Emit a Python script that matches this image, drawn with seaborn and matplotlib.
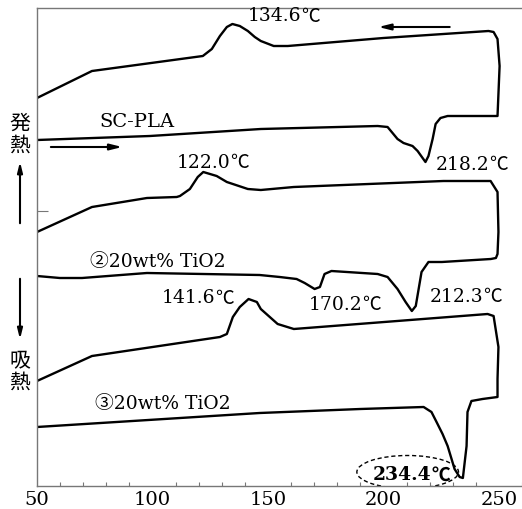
import numpy as np
import pandas as pd
import matplotlib
matplotlib.use("Agg")
import matplotlib.pyplot as plt
import seaborn as sns
from matplotlib.patches import Ellipse, FancyArrowPatch

# DSC traces (arbitrary heat-flow units), each a loop:
# heating run (bottom) -> vertical at 250 C -> cooling run (top)

# SC-PLA
sc_heat_T = [50, 98.9, 146.9, 197.5, 201.8, 206.1, 208.7, 212.6, 214.8, 218.2,
             219.5, 221.3, 222.6, 224.7, 227.8, 247.7, 249.4]
sc_heat_v = [346, 350, 357, 360, 359, 347, 343, 340, 335, 324,
             330, 347, 362, 368, 370, 370, 370]
sc_cool_T = [250.3, 249.4, 247.7, 245.5, 200.0, 158.6, 152.5, 146.9, 144.3, 141.3,
             137.8, 134.6, 132.2, 129.2, 125.7, 121.8, 73.8, 50]
sc_cool_v = [420, 447, 454, 455, 448, 440, 440, 445, 449, 455,
             460, 462, 459, 450, 437, 430, 415, 388]

# (2) 20wt% TiO2
t2_heat_T = [50, 59.9, 69.5, 97.6, 146.4, 155.1, 162.4, 165.9, 170.2, 172.5,
             174.5, 177.5, 197.5, 201.8, 206.1, 209.6, 212.3, 214.0, 216.5,
             219.5, 225.3, 246.5, 248.7, 249.4]
t2_heat_v = [210, 208, 208, 213, 211, 209, 207, 203, 197, 199,
             212, 215, 212, 209, 197, 184, 175, 180, 214,
             224, 224, 227, 228, 232]
t2_cool_T = [249.8, 249.4, 246.4, 226.0, 161.2, 146.9, 141.3, 132.2, 127.8, 122.0,
             119.6, 116.2, 111.9, 110.5, 97.6, 73.8, 50]
t2_cool_v = [254, 294, 305, 305, 299, 296, 297, 304, 310, 314,
             309, 297, 290, 289, 288, 279, 254]

# (3) 20wt% TiO2
t3_heat_T = [50, 146.4, 190.0, 217.4, 220.8, 223.0, 225.6, 227.8, 229.5, 230.8,
             233.0, 234.4, 236.0, 236.4, 238.1, 242.9, 249.4]
t3_heat_v = [59, 73, 77, 79, 74, 64, 52, 40, 27, 17,
             9, 8, 40, 74, 85, 87, 89]
t3_cool_T = [249.4, 249.8, 247.7, 245.1, 161.2, 154.2, 146.9, 145.2, 141.6, 137.8,
             134.8, 132.2, 129.2, 73.8, 50]
t3_cool_v = [107, 139, 170, 172, 157, 162, 177, 184, 187, 179,
             169, 152, 149, 130, 105]

x_ticks = [50, 100, 150, 200, 250]

# peak temperatures written on the chart
peak_labels = ["134.6", "218.2", "122.0", "141.6", "170.2", "212.3", "234.4"]

sns.set_theme(style="white")
plt.rcParams["font.family"] = ["DejaVu Serif", "Noto Sans CJK JP", "DejaVu Sans"]
plt.rcParams["text.color"] = "black"

fig = plt.figure(figsize=(5.22, 5.10), dpi=100)
ax = fig.add_axes([37 / 522, 23 / 510, 485 / 522, 478 / 510])

curves = [
    (sc_heat_T + sc_cool_T, sc_heat_v + sc_cool_v),
    (t2_heat_T + t2_cool_T, t2_heat_v + t2_cool_v),
    (t3_heat_T + t3_cool_T, t3_heat_v + t3_cool_v),
]
for T, v in curves:
    df = pd.DataFrame({"T": T, "heat": v})
    sns.lineplot(data=df, x="T", y="heat", sort=False, estimator=None,
                 color="black", lw=1.7, ax=ax)

ax.set_xlim(50, 260)
ax.set_ylim(0, 478)
ax.set_xlabel("")
ax.set_ylabel("")

ax.set_xticks(x_ticks)
ax.set_xticks(np.arange(50, 261, 10), minor=True)
ax.set_yticks([275])
ax.set_yticklabels([])
ax.tick_params(axis="x", which="major", direction="in", length=4, width=0.8,
               color="#777777", labelsize=14, pad=3, labelcolor="black")
ax.tick_params(axis="x", which="minor", direction="in", length=3, width=0.8,
               color="#777777", bottom=True)
ax.tick_params(axis="y", direction="in", length=8, width=0.8, color="#777777",
               left=True)
for side in ["left", "bottom", "top"]:
    ax.spines[side].set_color("#777777")
    ax.spines[side].set_linewidth(1.0)
ax.spines["right"].set_visible(False)

fs = 13.5


def temp_label(x, y, num, bold=False):
    # number in serif, the degree sign in the wide CJK glyph
    w = "bold" if bold else "normal"
    t = ax.text(x, y, num, fontsize=fs, fontweight=w, ha="left", va="center")
    ax.annotate("℃", xy=(1, 0.5), xycoords=t, fontsize=fs, fontweight=w,
                ha="left", va="center", family=["Noto Sans CJK JP"])


label_pos = [(141.3, 471), (222.6, 322), (110.5, 324), (104.1, 189),
             (167.6, 182), (220.0, 190), (195.5, 12)]
for (x, y), num in zip(label_pos, peak_labels):
    temp_label(x, y, num, bold=(num == "234.4"))

ax.text(93.3, 365, "SC-PLA", fontsize=14, ha="center", va="center")
ax.text(102.3, 225, "②20wt% TiO2", fontsize=fs, ha="center", va="center")
ax.text(104.3, 83, "③20wt% TiO2", fontsize=fs, ha="center", va="center")
ax.add_patch(Ellipse((210.5, 14), 44, 33, fill=False, ls=(0, (3, 2)),
                     lw=1.0, color="black"))

arrow = dict(arrowstyle="-|>,head_length=0.6,head_width=0.15", color="black", lw=1.5)
ax.annotate("", xy=(196.6, 459), xytext=(229.9, 459), arrowprops=arrow)
ax.annotate("", xy=(88.1, 339), xytext=(54.8, 339), arrowprops=arrow)

# exo / endo labels on the left
fig.text(20 / 522, 1 - 135 / 510, "発\n熱", fontsize=15, ha="center", va="center",
         family=["Noto Sans CJK JP"], linespacing=1.0)
fig.text(20 / 522, 1 - 372 / 510, "吸\n熱", fontsize=15, ha="center", va="center",
         family=["Noto Sans CJK JP"], linespacing=1.0)
for y0, y1 in [(227, 160), (277, 343)]:
    fig.add_artist(FancyArrowPatch(
        (20 / 522, 1 - y0 / 510), (20 / 522, 1 - y1 / 510), transform=fig.transFigure,
        arrowstyle="-|>,head_length=0.6,head_width=0.15", color="black", lw=1.5,
        mutation_scale=10))

fig.savefig("out.png", dpi=100)
